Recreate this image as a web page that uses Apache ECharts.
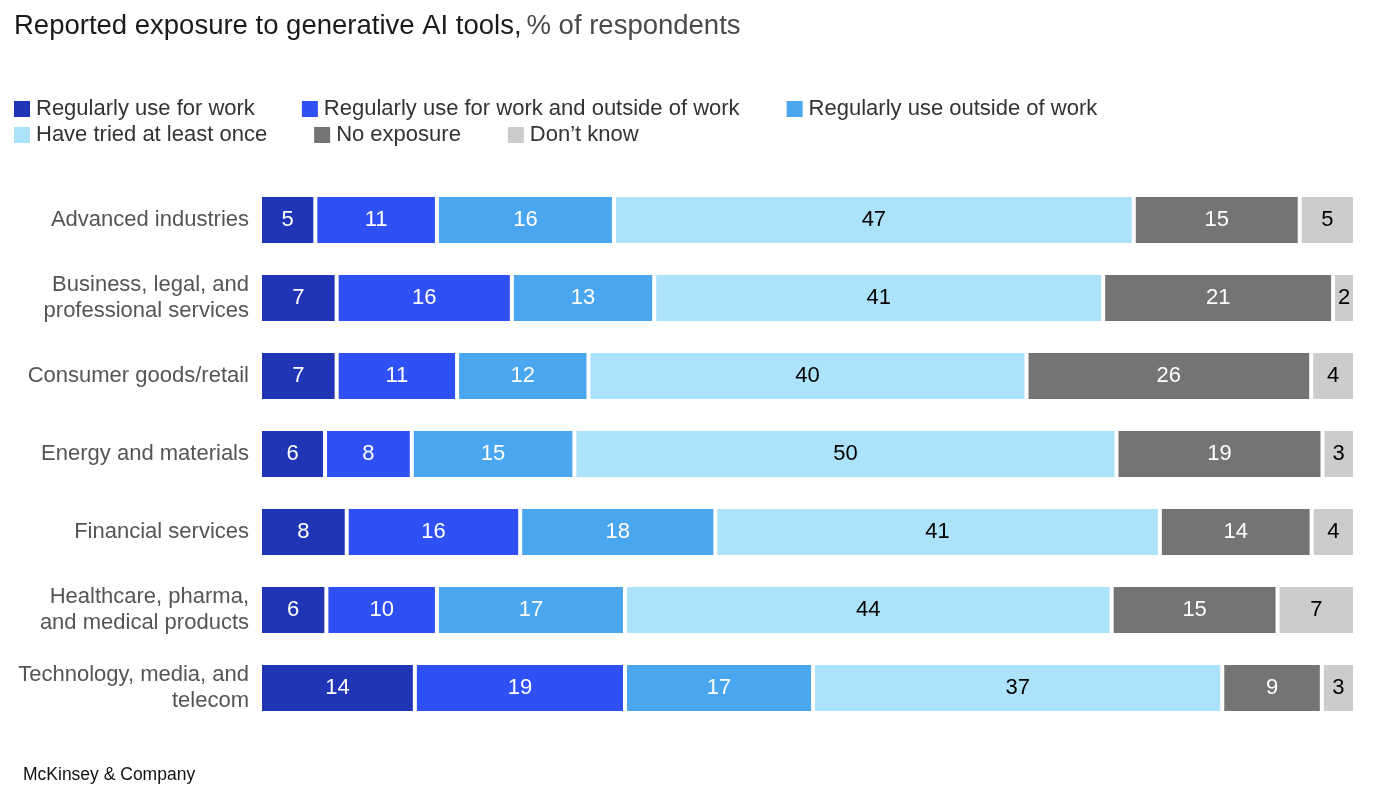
<!DOCTYPE html>
<html>
<head>
<meta charset="utf-8">
<script src="https://cdn.jsdelivr.net/npm/echarts@6/dist/echarts.min.js"></script>
<style>html,body{margin:0;padding:0;background:#fff}#c{width:1376px;height:808px}</style>
</head>
<body>
<div id="c"></div>
<script>
const categories = [
  "Advanced industries",
  "Business, legal, and\nprofessional services",
  "Consumer goods/retail",
  "Energy and materials",
  "Financial services",
  "Healthcare, pharma,\nand medical products",
  "Technology, media, and\ntelecom"
];
const seriesNames = [
  "Regularly use for work",
  "Regularly use for work and outside of work",
  "Regularly use outside of work",
  "Have tried at least once",
  "No exposure",
  "Don\u2019t know"
];
const useForWork        = [5, 7, 7, 6, 8, 6, 14];
const useWorkAndOutside = [11, 16, 11, 8, 16, 10, 19];
const useOutsideWork    = [16, 13, 12, 15, 18, 17, 17];
const triedOnce         = [47, 41, 40, 50, 41, 44, 37];
const noExposure        = [15, 21, 26, 19, 14, 15, 9];
const dontKnow          = [5, 2, 4, 3, 4, 7, 3];

const allValues = [useForWork, useWorkAndOutside, useOutsideWork, triedOnce, noExposure, dontKnow];
const colors = ["#1f35b5", "#2f50f5", "#4aa6ee", "#ade3fa", "#747474", "#cccccc"];
const labelColors = ["#fff", "#fff", "#fff", "#000", "#fff", "#000"];

const rowSums = categories.map((_, i) => allValues.reduce((s, arr) => s + arr[i], 0));

const FONT = "Liberation Sans";

const series = allValues.map((arr, k) => ({
  name: seriesNames[k],
  type: "bar",
  stack: "total",
  barWidth: 50,
  itemStyle: { color: colors[k], borderColor: "#fff", borderWidth: 2 },
  label: {
    show: true,
    position: "inside",
    color: labelColors[k],
    fontFamily: FONT,
    fontSize: 22,
    formatter: p => String(arr[p.dataIndex])
  },
  emphasis: { disabled: true },
  data: arr.map((v, i) => v / rowSums[i] * 100)
}));

const chart = echarts.init(document.getElementById("c"));
const legendCommon = {
  left: 12,
  padding: 0,
  itemWidth: 18,
  itemHeight: 18,
  itemGap: 45,
  icon: "rect",
  textStyle: { fontFamily: FONT, fontSize: 22, color: "#333", padding: [0, 0, 0, 0] },
  selectedMode: false
};
chart.setOption({
  animation: false,
  title: {
    left: 14,
    top: 12,
    padding: 0,
    text: "{b|Reported exposure to generative AI tools,} {n|% of respondents}",
    textStyle: {
      fontWeight: "normal",
      rich: {
        b: { fontFamily: FONT, fontSize: 27.5, color: "#1a1a1a", fontWeight: "normal" },
        n: { fontFamily: FONT, fontSize: 27.5, color: "#4a4a4a", fontWeight: "normal" }
      }
    }
  },
  legend: [
    Object.assign({}, legendCommon, { top: 98, data: seriesNames.slice(0, 3) }),
    Object.assign({}, legendCommon, { top: 124, data: seriesNames.slice(3, 6) })
  ],
  graphic: [{
    type: "text",
    left: 23,
    top: 766,
    style: { text: "McKinsey & Company", fontFamily: FONT, fontSize: 17.5, fill: "#111" }
  }],
  grid: { left: 260, right: 21, top: 181, bottom: 81, containLabel: false },
  xAxis: { type: "value", min: 0, max: 100, show: false },
  yAxis: {
    type: "category",
    inverse: true,
    data: categories,
    axisLine: { show: false },
    axisTick: { show: false },
    axisLabel: {
      margin: 11,
      fontFamily: FONT,
      fontSize: 22,
      color: "#555",
      lineHeight: 26,
      align: "right"
    }
  },
  series: series
});
</script>
</body>
</html>
